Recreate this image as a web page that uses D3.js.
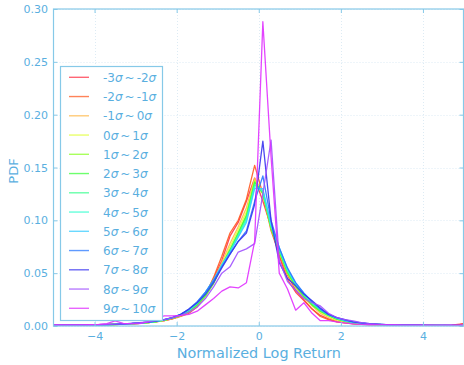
<!DOCTYPE html>
<html>
<head>
<meta charset="utf-8">
<script src="https://cdn.jsdelivr.net/npm/d3@7"></script>
<style>
  body { margin: 0; background: #fff; }
  text { font-family: "DejaVu Sans", sans-serif; }
</style>
</head>
<body>
<svg id="chart" width="464" height="365"></svg>
<script>
// bin centres of the histogram
const binCenters = [-5.1,-4.9,-4.7,-4.5,-4.3,-4.1,-3.9,-3.7,-3.5,-3.3,-3.1,-2.9,-2.7,-2.5,
  -2.3,-2.1,-1.9,-1.7,-1.5,-1.3,-1.1,-0.9,-0.7,-0.5,-0.3,-0.1,0.1,0.3,0.5,0.7,0.9,1.1,1.3,1.5,1.7,1.9,2.1,2.3,
  2.5,2.7,2.9,3.1,3.3,3.5,3.7,3.9,4.1,4.3,4.5,4.7,4.9,5.1];

const labels = ['-3σ~-2σ','-2σ~-1σ','-1σ~0σ','0σ~1σ','1σ~2σ','2σ~3σ','3σ~4σ',
  '4σ~5σ','5σ~6σ','6σ~7σ','7σ~8σ','8σ~9σ','9σ~10σ'];

const colors = ['#ff3347','#ff5a22','#ffb84a','#e2ff3a','#8cff26','#3cff3c','#33ff8c',
  '#33ffcf','#38ccff','#2a78ff','#3a34f0','#a050ff','#e030ff'];

const yTicks = [0, 0.05, 0.10, 0.15, 0.20, 0.25, 0.30];
const xTicks = [-4, -2, 0, 2, 4];

// PDF per bin, one list per sigma band
const pdfM3 = [0.0005,0.0005,0.0006,0.0007,0.0008,0.0009,0.0010,0.0012,0.0014,0.0017,0.0021,0.0025,0.0031,0.0040,
  0.0050,0.0068,0.0095,0.0130,0.0190,0.0300,0.0450,0.0620,0.0850,0.0980,0.1180,0.1400,0.1180,0.0940,0.0660,0.0440,0.0320,0.0240,0.0160,0.0100,0.0068,0.0042,0.0030,0.0021,
  0.0016,0.0012,0.0010,0.0008,0.0007,0.0006,0.0005,0.0005,0.0004,0.0004,0.0005,0.0008,0.0018,0.0032];
const pdfM2 = [0.0006,0.0006,0.0007,0.0007,0.0008,0.0009,0.0011,0.0012,0.0015,0.0018,0.0022,0.0027,0.0033,0.0041,
  0.0052,0.0070,0.0092,0.0120,0.0180,0.0290,0.0460,0.0660,0.0880,0.1000,0.1200,0.1520,0.1250,0.0900,0.0680,0.0480,0.0340,0.0250,0.0160,0.0090,0.0060,0.0040,0.0030,0.0022,
  0.0017,0.0013,0.0010,0.0009,0.0007,0.0006,0.0005,0.0005,0.0005,0.0004,0.0004,0.0006,0.0014,0.0026];
const pdfM1 = [0.0005,0.0006,0.0006,0.0007,0.0008,0.0009,0.0010,0.0012,0.0014,0.0017,0.0021,0.0026,0.0033,0.0041,
  0.0052,0.0072,0.0096,0.0130,0.0190,0.0280,0.0420,0.0600,0.0780,0.0940,0.1120,0.1400,0.1260,0.0940,0.0700,0.0500,0.0360,0.0270,0.0190,0.0120,0.0080,0.0050,0.0035,0.0025,
  0.0019,0.0014,0.0011,0.0009,0.0008,0.0007,0.0006,0.0005,0.0005,0.0004,0.0004,0.0004,0.0006,0.0010];
const pdfP0 = [0.0005,0.0005,0.0006,0.0007,0.0008,0.0009,0.0010,0.0012,0.0014,0.0017,0.0021,0.0026,0.0032,0.0041,
  0.0055,0.0075,0.0100,0.0140,0.0200,0.0280,0.0410,0.0580,0.0750,0.0910,0.1080,0.1380,0.1250,0.0930,0.0700,0.0500,0.0370,0.0280,0.0200,0.0130,0.0090,0.0060,0.0040,0.0030,
  0.0022,0.0017,0.0013,0.0011,0.0009,0.0008,0.0007,0.0006,0.0005,0.0005,0.0004,0.0004,0.0004,0.0005];
const pdfP1 = [0.0005,0.0005,0.0006,0.0007,0.0008,0.0009,0.0010,0.0012,0.0014,0.0017,0.0021,0.0026,0.0032,0.0040,
  0.0055,0.0075,0.0100,0.0140,0.0200,0.0280,0.0400,0.0570,0.0720,0.0880,0.1050,0.1370,0.1250,0.0920,0.0700,0.0500,0.0370,0.0280,0.0200,0.0140,0.0100,0.0065,0.0045,0.0030,
  0.0022,0.0017,0.0014,0.0011,0.0009,0.0008,0.0007,0.0006,0.0005,0.0005,0.0004,0.0004,0.0004,0.0004];
const pdfP2 = [0.0005,0.0006,0.0006,0.0007,0.0008,0.0009,0.0010,0.0012,0.0014,0.0017,0.0021,0.0026,0.0032,0.0041,
  0.0055,0.0075,0.0100,0.0140,0.0200,0.0290,0.0410,0.0570,0.0720,0.0880,0.1040,0.1360,0.1260,0.0930,0.0710,0.0510,0.0380,0.0280,0.0200,0.0140,0.0100,0.0065,0.0045,0.0030,
  0.0023,0.0018,0.0014,0.0011,0.0009,0.0008,0.0007,0.0006,0.0005,0.0005,0.0005,0.0004,0.0004,0.0004];
const pdfP3 = [0.0005,0.0006,0.0006,0.0007,0.0008,0.0009,0.0010,0.0012,0.0015,0.0018,0.0022,0.0027,0.0033,0.0042,
  0.0055,0.0078,0.0105,0.0145,0.0210,0.0300,0.0420,0.0570,0.0710,0.0860,0.1020,0.1340,0.1270,0.0940,0.0720,0.0520,0.0390,0.0290,0.0210,0.0150,0.0100,0.0070,0.0048,0.0032,
  0.0024,0.0018,0.0014,0.0011,0.0009,0.0008,0.0007,0.0006,0.0005,0.0005,0.0005,0.0004,0.0004,0.0004];
const pdfP4 = [0.0006,0.0006,0.0007,0.0007,0.0008,0.0009,0.0011,0.0013,0.0015,0.0018,0.0022,0.0028,0.0035,0.0045,
  0.0060,0.0080,0.0110,0.0150,0.0220,0.0310,0.0430,0.0570,0.0700,0.0850,0.1000,0.1320,0.1280,0.0950,0.0730,0.0530,0.0400,0.0300,0.0220,0.0160,0.0110,0.0075,0.0050,0.0035,
  0.0026,0.0019,0.0015,0.0012,0.0010,0.0008,0.0007,0.0006,0.0006,0.0005,0.0005,0.0004,0.0004,0.0004];
const pdfP5 = [0.0006,0.0006,0.0007,0.0008,0.0009,0.0010,0.0011,0.0013,0.0015,0.0019,0.0023,0.0029,0.0036,0.0046,
  0.0060,0.0080,0.0110,0.0150,0.0220,0.0320,0.0440,0.0580,0.0700,0.0840,0.0980,0.1300,0.1300,0.0960,0.0740,0.0540,0.0400,0.0310,0.0230,0.0160,0.0110,0.0075,0.0050,0.0036,
  0.0027,0.0020,0.0016,0.0012,0.0010,0.0009,0.0007,0.0006,0.0006,0.0005,0.0005,0.0005,0.0004,0.0004];
const pdfP6 = [0.0006,0.0007,0.0007,0.0008,0.0009,0.0010,0.0011,0.0013,0.0016,0.0019,0.0024,0.0030,0.0037,0.0047,
  0.0060,0.0080,0.0110,0.0160,0.0230,0.0320,0.0430,0.0560,0.0680,0.0800,0.0900,0.1180,0.1420,0.1000,0.0740,0.0550,0.0410,0.0310,0.0230,0.0160,0.0110,0.0080,0.0055,0.0040,
  0.0029,0.0021,0.0016,0.0013,0.0010,0.0009,0.0008,0.0007,0.0006,0.0005,0.0005,0.0005,0.0004,0.0004];
const pdfP7 = [0.0007,0.0007,0.0008,0.0008,0.0009,0.0010,0.0012,0.0014,0.0016,0.0020,0.0024,0.0030,0.0037,0.0047,
  0.0060,0.0080,0.0110,0.0160,0.0220,0.0300,0.0410,0.0550,0.0680,0.0800,0.0880,0.1150,0.1750,0.1000,0.0600,0.0450,0.0380,0.0300,0.0240,0.0170,0.0110,0.0080,0.0060,0.0040,
  0.0030,0.0022,0.0017,0.0013,0.0010,0.0009,0.0008,0.0007,0.0006,0.0006,0.0005,0.0005,0.0005,0.0005];
const pdfP8 = [0.0008,0.0008,0.0008,0.0009,0.0010,0.0011,0.0012,0.0014,0.0017,0.0020,0.0025,0.0031,0.0040,0.0050,
  0.0060,0.0080,0.0100,0.0130,0.0180,0.0260,0.0370,0.0500,0.0560,0.0700,0.0730,0.0780,0.1250,0.1760,0.0620,0.0420,0.0340,0.0260,0.0220,0.0190,0.0120,0.0080,0.0060,0.0048,
  0.0032,0.0022,0.0017,0.0013,0.0011,0.0009,0.0008,0.0007,0.0007,0.0006,0.0006,0.0006,0.0007,0.0010];
const pdfP9 = [0.0010,0.0010,0.0010,0.0010,0.0010,0.0012,0.0015,0.0022,0.0048,0.0025,0.0020,0.0022,0.0040,0.0075,
  0.0095,0.0095,0.0100,0.0110,0.0140,0.0200,0.0260,0.0330,0.0370,0.0360,0.0410,0.0800,0.2880,0.1600,0.0500,0.0350,0.0150,0.0220,0.0120,0.0050,0.0050,0.0040,0.0030,0.0020,
  0.0015,0.0012,0.0010,0.0010,0.0010,0.0008,0.0008,0.0008,0.0008,0.0008,0.0008,0.0008,0.0008,0.0008];

const series = [pdfM3, pdfM2, pdfM1, pdfP0, pdfP1, pdfP2, pdfP3, pdfP4, pdfP5, pdfP6, pdfP7, pdfP8, pdfP9];

const textColor = '#5aafdf';
const axisColor = '#86c9e8';

const svg = d3.select('#chart');
const margin = { left: 53.5, right: 464, top: 9, bottom: 326 };

const xScale = d3.scaleLinear().domain([-5, 5]).range([margin.left, margin.right]);
const yScale = d3.scaleLinear().domain([0, 0.3]).range([margin.bottom, margin.top]);

svg.append('defs').append('clipPath').attr('id', 'plotClip')
  .append('rect')
  .attr('x', margin.left).attr('y', margin.top)
  .attr('width', margin.right - margin.left).attr('height', margin.bottom - margin.top);

// dotted grid
const grid = svg.append('g');
grid.selectAll('line.gy').data(yTicks).enter().append('line')
  .attr('x1', margin.left).attr('x2', margin.right)
  .attr('y1', d => Math.round(yScale(d)) + 0.5).attr('y2', d => Math.round(yScale(d)) + 0.5)
  .attr('stroke', '#d4e6f1').attr('stroke-width', 0.8).attr('stroke-dasharray', '1,2');
grid.selectAll('line.gx').data(xTicks).enter().append('line')
  .attr('y1', margin.top).attr('y2', margin.bottom)
  .attr('x1', d => Math.round(xScale(d)) + 0.5).attr('x2', d => Math.round(xScale(d)) + 0.5)
  .attr('stroke', '#d4e6f1').attr('stroke-width', 0.8).attr('stroke-dasharray', '1,2');

// curves
const line = d3.line()
  .x((d, i) => xScale(binCenters[i]))
  .y(d => yScale(d));

svg.append('g').attr('clip-path', 'url(#plotClip)')
  .selectAll('path')
  .data(series)
  .enter()
  .append('path')
  .attr('d', d => line(d))
  .attr('fill', 'none')
  .attr('stroke', (d, i) => colors[i])
  .attr('stroke-width', 1.3)
  .attr('stroke-opacity', 0.9)
  .attr('stroke-linejoin', 'round');

// axes (ticks inward, on all four sides)
const xAxisB = d3.axisBottom(xScale).tickValues(xTicks).tickSizeInner(-4).tickSizeOuter(0)
  .tickPadding(6).tickFormat(d => d < 0 ? '\u2212' + Math.abs(d) : d);
const xAxisT = d3.axisTop(xScale).tickValues(xTicks).tickSizeInner(-4).tickSizeOuter(0).tickFormat('');
const yAxisL = d3.axisLeft(yScale).tickValues(yTicks).tickSizeInner(-4).tickSizeOuter(0)
  .tickPadding(5.5).tickFormat(d3.format('.2f'));
const yAxisR = d3.axisRight(yScale).tickValues(yTicks).tickSizeInner(-4).tickSizeOuter(0).tickFormat('');

function styleAxis(g) {
  g.selectAll('.domain').remove();
  g.selectAll('line').attr('stroke', axisColor);
  g.selectAll('text').attr('fill', textColor).style('font-size', '11px')
    .style('font-family', '"DejaVu Sans", sans-serif');
}

svg.append('g').attr('transform', `translate(0,${margin.bottom})`).call(xAxisB).call(styleAxis);
svg.append('g').attr('transform', `translate(0,${margin.top})`).call(xAxisT).call(styleAxis);
svg.append('g').attr('transform', `translate(${margin.left},0)`).call(yAxisL).call(styleAxis);
svg.append('g').attr('transform', `translate(${margin.right - 0.5},0)`).call(yAxisR).call(styleAxis);

// frame
svg.append('rect')
  .attr('x', margin.left).attr('y', margin.top)
  .attr('width', margin.right - 0.5 - margin.left).attr('height', margin.bottom - margin.top)
  .attr('fill', 'none').attr('stroke', axisColor).attr('stroke-width', 1.2);

// axis titles
svg.append('text')
  .attr('x', (xScale(-5) + xScale(5)) / 2).attr('y', 358)
  .attr('text-anchor', 'middle').attr('fill', textColor).style('font-size', '14.4px')
  .text('Normalized Log Return');
svg.append('text')
  .attr('transform', 'translate(18,171) rotate(-90)')
  .attr('text-anchor', 'middle').attr('fill', textColor).style('font-size', '13px')
  .text('PDF');

// legend
const legend = svg.append('g');
legend.append('rect')
  .attr('x', 60.5).attr('y', 66.5).attr('width', 102).attr('height', 254)
  .attr('fill', '#fff').attr('stroke', axisColor).attr('stroke-width', 1.2);

const rows = legend.selectAll('g.row').data(labels).enter().append('g')
  .attr('transform', (d, i) => `translate(0,${77.3 + i * 19.25})`);
rows.append('line')
  .attr('x1', 69).attr('x2', 89).attr('y1', 0).attr('y2', 0)
  .attr('stroke', (d, i) => colors[i]).attr('stroke-width', 1.4).attr('stroke-opacity', 0.75);
rows.append('text')
  .attr('x', 103).attr('y', 4.5)
  .attr('fill', textColor).style('font-size', '12px')
  .each(function (d) {
    const t = d3.select(this);
    let afterSim = false;
    d.split(/(σ|~)/).filter(s => s.length).forEach(part => {
      const sp = t.append('tspan').text(part);
      if (part === 'σ') sp.style('font-style', 'italic');
      if (part === '~') { sp.attr('dx', 2); afterSim = true; }
      else if (afterSim) { sp.attr('dx', 2); afterSim = false; }
    });
  });
</script>
</body>
</html>
